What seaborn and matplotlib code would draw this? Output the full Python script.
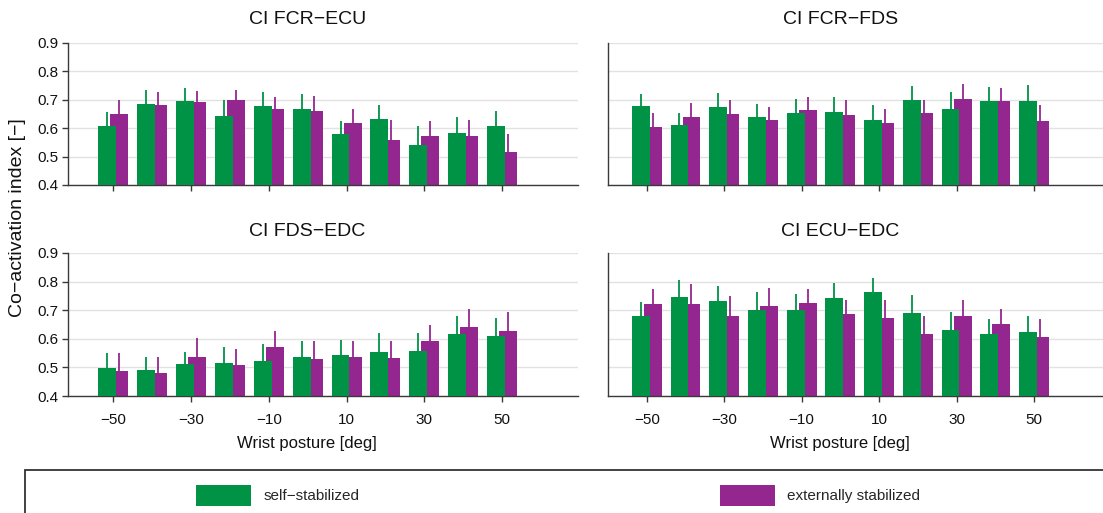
import numpy as np
import pandas as pd
import matplotlib
matplotlib.use("Agg")
import matplotlib.pyplot as plt
import seaborn as sns
from matplotlib.patches import Patch, Rectangle

# ---------------- data ----------------
postures = [-50, -40, -30, -20, -10, 0, 10, 20, 30, 40, 50]
tick_values = [-50, -30, -10, 10, 30, 50]
series_names = ["self\u2212stabilized", "externally stabilized"]
panel_titles = ["CI FCR\u2212ECU", "CI FCR\u2212FDS", "CI FDS\u2212EDC", "CI ECU\u2212EDC"]

fcr_ecu_self = [0.608, 0.685, 0.696, 0.642, 0.677, 0.666, 0.579, 0.632, 0.542, 0.583, 0.608]
fcr_ecu_self_err = [0.048, 0.049, 0.046, 0.058, 0.050, 0.055, 0.047, 0.051, 0.065, 0.055, 0.054]
fcr_ecu_ext = [0.649, 0.680, 0.692, 0.699, 0.669, 0.659, 0.618, 0.560, 0.572, 0.572, 0.516]
fcr_ecu_ext_err = [0.050, 0.047, 0.039, 0.036, 0.042, 0.054, 0.051, 0.068, 0.054, 0.056, 0.062]

fcr_fds_self = [0.677, 0.613, 0.675, 0.638, 0.653, 0.656, 0.630, 0.701, 0.668, 0.696, 0.695]
fcr_fds_self_err = [0.043, 0.039, 0.049, 0.047, 0.051, 0.054, 0.051, 0.049, 0.059, 0.049, 0.057]
fcr_fds_ext = [0.605, 0.638, 0.651, 0.628, 0.665, 0.645, 0.620, 0.653, 0.702, 0.695, 0.624]
fcr_fds_ext_err = [0.049, 0.052, 0.048, 0.046, 0.045, 0.056, 0.047, 0.047, 0.053, 0.047, 0.057]

fds_edc_self = [0.497, 0.491, 0.511, 0.516, 0.523, 0.536, 0.545, 0.554, 0.559, 0.618, 0.611]
fds_edc_self_err = [0.054, 0.046, 0.043, 0.055, 0.058, 0.055, 0.050, 0.065, 0.060, 0.060, 0.063]
fds_edc_ext = [0.489, 0.481, 0.537, 0.508, 0.572, 0.531, 0.537, 0.532, 0.593, 0.640, 0.627]
fds_edc_ext_err = [0.063, 0.057, 0.067, 0.057, 0.054, 0.062, 0.055, 0.059, 0.056, 0.063, 0.068]

ecu_edc_self = [0.679, 0.747, 0.732, 0.701, 0.701, 0.741, 0.762, 0.691, 0.631, 0.618, 0.625]
ecu_edc_self_err = [0.049, 0.058, 0.053, 0.064, 0.054, 0.055, 0.050, 0.061, 0.061, 0.050, 0.054]
ecu_edc_ext = [0.720, 0.720, 0.678, 0.716, 0.724, 0.687, 0.674, 0.618, 0.678, 0.652, 0.606]
ecu_edc_ext_err = [0.053, 0.073, 0.070, 0.060, 0.051, 0.048, 0.061, 0.063, 0.056, 0.053, 0.064]

panels = [
    (fcr_ecu_self, fcr_ecu_self_err, fcr_ecu_ext, fcr_ecu_ext_err),
    (fcr_fds_self, fcr_fds_self_err, fcr_fds_ext, fcr_fds_ext_err),
    (fds_edc_self, fds_edc_self_err, fds_edc_ext, fds_edc_ext_err),
    (ecu_edc_self, ecu_edc_self_err, ecu_edc_ext, ecu_edc_ext_err),
]

# ---------------- style ----------------
GREEN = "#009245"
PURPLE = "#93278F"
SPINE = "#3a3a3a"
GRID = "#e2e2e2"
TEXT = "#111111"

sns.set_theme(style="white")
plt.rcParams["font.family"] = ["Liberation Sans", "DejaVu Sans"]
plt.rcParams["axes.unicode_minus"] = True

fig = plt.figure(figsize=(11.03, 5.13), dpi=100)
W, H = 1103.0, 513.0

def fx(px):
    return px / W

def fy(py):
    return 1 - py / H

left_x0, left_x1 = 68, 578
right_x0, right_x1 = 608, 1103
top_y0, top_y1 = 43, 185
bot_y0, bot_y1 = 253, 396
rects = [
    (fx(left_x0), fy(top_y1), fx(left_x1 - left_x0), (top_y1 - top_y0) / H),
    (fx(right_x0), fy(top_y1), fx(right_x1 - right_x0), (top_y1 - top_y0) / H),
    (fx(left_x0), fy(bot_y1), fx(left_x1 - left_x0), (bot_y1 - bot_y0) / H),
    (fx(right_x0), fy(bot_y1), fx(right_x1 - right_x0), (bot_y1 - bot_y0) / H),
]
xlims = [(-61.6, 69.5), (-60.0, 67.8), (-61.6, 69.5), (-60.0, 67.8)]
title_y = [1.162, 1.162, 1.147, 1.147]

offset = 1.55      # deg, half distance between bar centres in a group
bar_width = 0.46   # fraction of the 10-deg spacing

for i, (rect, title, (s, se, e, ee)) in enumerate(zip(rects, panel_titles, panels)):
    ax = fig.add_axes(rect)
    x_pos = np.array(postures, dtype=float)
    df_e = pd.DataFrame({"posture": x_pos + offset, "value": e})
    df_s = pd.DataFrame({"posture": x_pos - offset, "value": s})
    # externally stabilized first, self-stabilized drawn on top
    sns.barplot(data=df_e, x="posture", y="value", native_scale=True,
                color=PURPLE, saturation=1, width=bar_width, errorbar=None,
                linewidth=0, ax=ax, zorder=2)
    sns.barplot(data=df_s, x="posture", y="value", native_scale=True,
                color=GREEN, saturation=1, width=bar_width, errorbar=None,
                linewidth=0, ax=ax, zorder=3)
    ax.errorbar(x_pos + offset, e, yerr=[np.zeros(len(ee)), ee], fmt="none",
                ecolor=PURPLE, elinewidth=1.3, capsize=0, zorder=2.5)
    ax.errorbar(x_pos - offset, s, yerr=[np.zeros(len(se)), se], fmt="none",
                ecolor=GREEN, elinewidth=1.3, capsize=0, zorder=3.5)

    ax.set_xlim(*xlims[i])
    ax.set_ylim(0.4, 0.9)
    ax.set_yticks([0.4, 0.5, 0.6, 0.7, 0.8, 0.9])
    ax.set_xticks(tick_values)
    ax.yaxis.grid(True, color=GRID, linewidth=1.0, zorder=0)
    ax.xaxis.grid(False)
    ax.set_axisbelow(True)
    ax.set_title(title, fontsize=14, x=0.469, y=title_y[i], va="center",
                 pad=0, color=TEXT)
    ax.set_xlabel("")
    ax.set_ylabel("")
    for side in ["top", "right"]:
        ax.spines[side].set_visible(False)
    for side in ["left", "bottom"]:
        ax.spines[side].set_color(SPINE)
        ax.spines[side].set_linewidth(1.0)
    ax.tick_params(axis="x", which="major", bottom=True, direction="out",
                   length=4, width=1, color=SPINE, labelsize=11, pad=8.5,
                   labelcolor=TEXT)
    ax.tick_params(axis="y", left=(i % 2 == 0), direction="out", length=4,
                   width=1, color=SPINE, labelsize=11, pad=3,
                   labelleft=(i % 2 == 0), labelcolor=TEXT)
    if i < 2:
        ax.tick_params(axis="x", labelbottom=False)
    else:
        ax.set_xlabel("Wrist posture [deg]", fontsize=12, color=TEXT)
        ax.xaxis.set_label_coords(0.469, -(436 - bot_y1) / (bot_y1 - bot_y0))
        ax.xaxis.label.set_va("top")
    ax.patch.set_alpha(0)

fig.text(fx(18), fy(218), "Co\u2212activation index [\u2212]", rotation=90,
         ha="center", va="center", fontsize=14, color=TEXT)

# ---------------- legend ----------------
frame = Rectangle((fx(25), -0.1), 1.2, fy(470) + 0.1, transform=fig.transFigure,
                  facecolor="white", edgecolor="#333333", linewidth=1.3,
                  clip_on=False)
fig.add_artist(frame)

for color, label, px in [(GREEN, series_names[0], 196), (PURPLE, series_names[1], 720)]:
    h = Patch(facecolor=color, edgecolor="none")
    fig.legend(handles=[h], labels=[label], loc="center left",
               bbox_to_anchor=(fx(px), fy(495.5)), frameon=False,
               borderpad=0, borderaxespad=0, handlelength=3.6,
               handleheight=1.7, handletextpad=0.8,
               prop={"family": ["Liberation Sans", "DejaVu Sans"], "size": 11})

fig.savefig("out.png", dpi=100, facecolor="white")
